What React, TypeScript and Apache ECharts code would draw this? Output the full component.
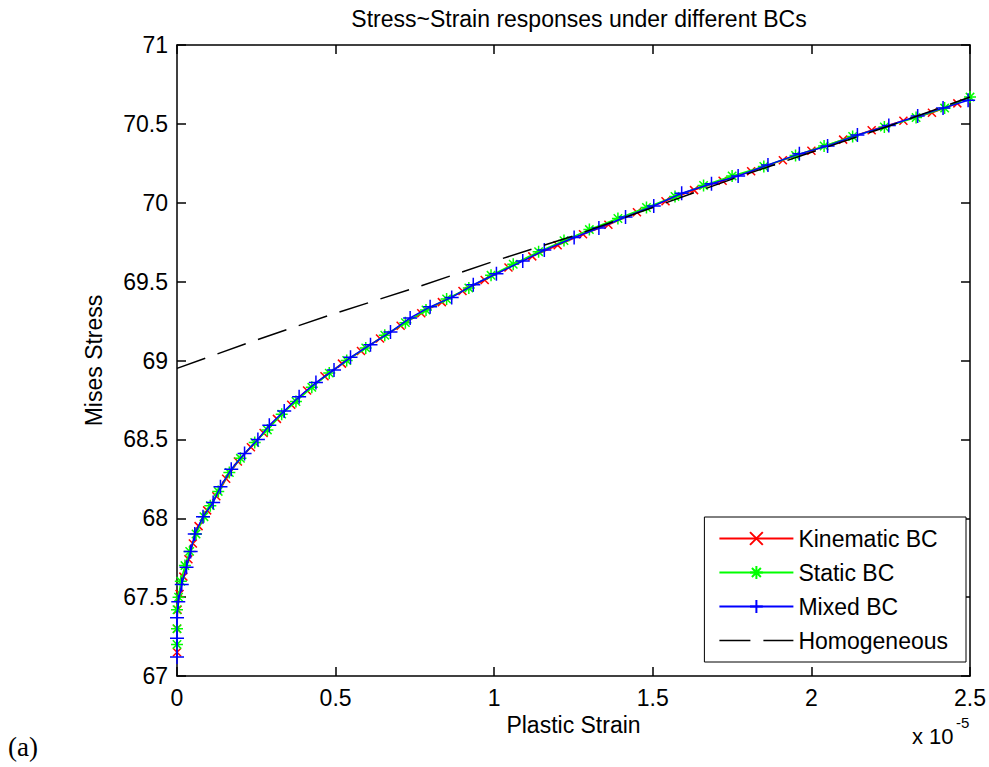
import React, { useEffect, useRef } from "react";
import * as echarts from "echarts";

const TITLE = "Stress~Strain responses under different BCs";
const X_NAME = "Plastic Strain";
const Y_NAME = "Mises Stress";
const SERIES_NAMES = ["Kinematic BC", "Static BC", "Mixed BC", "Homogeneous"];
const SERIES_COLORS = ["#ff0000", "#00ff00", "#0000ff", "#000000"];

// x in units of 1e-5
const kinematicX = [0, 0, 0.002, 0.008, 0.02, 0.036, 0.05, 0.068, 0.095, 0.124, 0.155, 0.192, 0.233, 0.273, 0.315, 0.36, 0.41, 0.465, 0.52, 0.58, 0.64, 0.705, 0.77, 0.835, 0.9, 0.97, 1.045, 1.12, 1.2, 1.28, 1.36, 1.45, 1.54, 1.63, 1.72, 1.81, 1.91, 2.0, 2.1, 2.19, 2.29, 2.38, 2.46];
const kinematicY = [67.15, 67.3, 67.42, 67.52, 67.63, 67.74, 67.84, 67.95, 68.05, 68.14, 68.25, 68.36, 68.45, 68.54, 68.63, 68.72, 68.81, 68.9, 68.98, 69.06, 69.14, 69.22, 69.3, 69.37, 69.44, 69.51, 69.59, 69.66, 69.73, 69.8, 69.86, 69.94, 70.01, 70.08, 70.14, 70.2, 70.27, 70.33, 70.4, 70.46, 70.52, 70.57, 70.63];

const staticX = [0, 0, 0, 0.005, 0.012, 0.025, 0.04, 0.06, 0.085, 0.105, 0.13, 0.165, 0.2, 0.245, 0.285, 0.33, 0.375, 0.425, 0.48, 0.535, 0.595, 0.655, 0.72, 0.785, 0.85, 0.92, 0.99, 1.06, 1.14, 1.22, 1.3, 1.39, 1.48, 1.57, 1.66, 1.75, 1.85, 1.95, 2.04, 2.13, 2.23, 2.33, 2.42, 2.5];
const staticY = [67.2, 67.3, 67.42, 67.5, 67.6, 67.7, 67.79, 67.9, 68.01, 68.08, 68.17, 68.29, 68.38, 68.48, 68.56, 68.66, 68.74, 68.83, 68.92, 69.0, 69.08, 69.16, 69.24, 69.32, 69.39, 69.46, 69.54, 69.61, 69.69, 69.76, 69.83, 69.9, 69.97, 70.04, 70.11, 70.17, 70.23, 70.3, 70.36, 70.42, 70.48, 70.54, 70.6, 70.67];

const mixedX = [0, 0, 0, 0.004, 0.015, 0.03, 0.043, 0.056, 0.082, 0.114, 0.137, 0.171, 0.213, 0.255, 0.291, 0.338, 0.385, 0.438, 0.495, 0.547, 0.61, 0.673, 0.735, 0.798, 0.866, 0.934, 1.007, 1.09, 1.158, 1.252, 1.33, 1.414, 1.503, 1.591, 1.685, 1.769, 1.863, 1.962, 2.051, 2.145, 2.244, 2.335, 2.415, 2.494];
const mixedY = [67.12, 67.24, 67.37, 67.47, 67.58, 67.69, 67.79, 67.9, 68.01, 68.1, 68.2, 68.31, 68.41, 68.5, 68.59, 68.68, 68.77, 68.86, 68.94, 69.02, 69.1, 69.18, 69.27, 69.34, 69.4, 69.48, 69.55, 69.63, 69.7, 69.78, 69.84, 69.91, 69.98, 70.06, 70.12, 70.17, 70.24, 70.31, 70.36, 70.43, 70.49, 70.55, 70.6, 70.65];

const homogeneousX = [0, 0.25, 0.5, 0.75, 1.0, 1.25, 1.5, 1.75, 2.0, 2.25, 2.5];
const homogeneousY = [68.95, 69.13, 69.3, 69.46, 69.63, 69.79, 69.97, 70.15, 70.32, 70.49, 70.67];

const X_MIN = 0, X_MAX = 2.5, X_STEP = 0.5;
const Y_MIN = 67, Y_MAX = 71, Y_STEP = 0.5;

const FONT = "'Liberation Sans', Arial, Helvetica, sans-serif";
const FS = 23;

const PLUS = "path://M0,5L10,5M5,0L5,10";
const CROSS = "path://M0,0L10,10M10,0L0,10";
const STAR = "path://M0,5L10,5M5,0L5,10M1.5,1.5L8.5,8.5M8.5,1.5L1.5,8.5";
const DASH_ICON = "path://M0,0L0,16M0,7.25L31,7.25L31,8.75L0,8.75ZM44,7.25L74,7.25L74,8.75L44,8.75Z";

const pairs = (xs: number[], ys: number[]) => xs.map((x, i) => [x, ys[i]]);

export default function App() {
  const ref = useRef<HTMLDivElement>(null);
  useEffect(() => {
    if (!ref.current) return;
    const chart = echarts.init(ref.current, undefined, { renderer: "svg" });
    const axisLine = { show: true, onZero: false, lineStyle: { color: "#000", width: 1.5 } };
    const axisTick = { show: true, inside: true, length: 9, lineStyle: { color: "#000", width: 1.5 } };
    const markerSeries = (idx: number, xs: number[], ys: number[], symbol: string, size: number) => ({
      name: SERIES_NAMES[idx],
      type: "line",
      data: pairs(xs, ys),
      symbol,
      symbolSize: size,
      showAllSymbol: true,
      lineStyle: { color: SERIES_COLORS[idx], width: 1.5 },
      itemStyle: { color: SERIES_COLORS[idx], borderColor: SERIES_COLORS[idx], borderWidth: 1.5 },
      emphasis: { disabled: true },
      z: 2 + idx,
    });
    chart.setOption({
      animation: false,
      backgroundColor: "#fff",
      title: {
        text: TITLE,
        left: 574,
        textAlign: "center",
        top: 2,
        textStyle: { fontFamily: FONT, fontSize: FS, fontWeight: "normal", color: "#000" },
      },
      grid: { left: 177, right: 17, top: 45, bottom: 91, containLabel: false },
      legend: {
        data: [
          SERIES_NAMES[0],
          SERIES_NAMES[1],
          SERIES_NAMES[2],
          { name: SERIES_NAMES[3], icon: DASH_ICON, itemStyle: { color: "#000", borderWidth: 0 } },
        ],
        orient: "vertical",
        right: 23,
        bottom: 105,
        backgroundColor: "#fff",
        borderColor: "#000",
        borderWidth: 1,
        padding: [10, 18, 10, 14],
        itemWidth: 74,
        itemHeight: 16,
        itemGap: 11,
        textStyle: { fontFamily: FONT, fontSize: FS, color: "#000", lineHeight: 23 },
        selectedMode: false,
      },
      xAxis: [
        {
          type: "value",
          min: X_MIN,
          max: X_MAX,
          interval: X_STEP,
          position: "bottom",
          axisLine,
          axisTick,
          splitLine: { show: false },
          axisLabel: { fontFamily: FONT, fontSize: FS, color: "#000", margin: 10 },
          name: X_NAME,
          nameLocation: "middle",
          nameGap: 34,
          nameTextStyle: { fontFamily: FONT, fontSize: FS, color: "#000" },
        },
        {
          type: "value",
          min: X_MIN,
          max: X_MAX,
          interval: X_STEP,
          position: "top",
          axisLine,
          axisTick,
          splitLine: { show: false },
          axisLabel: { show: false },
        },
      ],
      yAxis: [
        {
          type: "value",
          min: Y_MIN,
          max: Y_MAX,
          interval: Y_STEP,
          position: "left",
          axisLine,
          axisTick,
          splitLine: { show: false },
          axisLabel: { fontFamily: FONT, fontSize: FS, color: "#000", margin: 9 },
          name: Y_NAME,
          nameLocation: "middle",
          nameGap: 72,
          nameTextStyle: { fontFamily: FONT, fontSize: FS, color: "#000" },
        },
        {
          type: "value",
          min: Y_MIN,
          max: Y_MAX,
          interval: Y_STEP,
          position: "right",
          axisLine,
          axisTick,
          splitLine: { show: false },
          axisLabel: { show: false },
        },
      ],
      series: [
        markerSeries(0, kinematicX, kinematicY, CROSS, 8),
        markerSeries(1, staticX, staticY, STAR, 12),
        markerSeries(2, mixedX, mixedY, PLUS, 14),
        {
          name: SERIES_NAMES[3],
          type: "line",
          data: pairs(homogeneousX, homogeneousY),
          symbol: "none",
          lineStyle: { color: SERIES_COLORS[3], width: 1.5, type: [30, 13] },
          itemStyle: { color: SERIES_COLORS[3] },
          emphasis: { disabled: true },
          z: 6,
        },
      ],
      graphic: [
        {
          type: "text",
          left: 912,
          top: 725,
          style: { text: "x 10", fontFamily: FONT, fontSize: 22, fill: "#000" },
        },
        {
          type: "text",
          left: 956,
          top: 715,
          style: { text: "-5", fontFamily: FONT, fontSize: 15, fill: "#000" },
        },
        {
          type: "text",
          left: 8,
          top: 733,
          style: { text: "(a)", fontFamily: "'Liberation Serif', 'Times New Roman', serif", fontSize: 27, fill: "#000" },
        },
      ],
    });
    return () => chart.dispose();
  }, []);
  return (
    <div
      ref={ref}
      style={{ position: "fixed", left: 0, top: 0, width: 989, height: 767, background: "#fff" }}
    />
  );
}
